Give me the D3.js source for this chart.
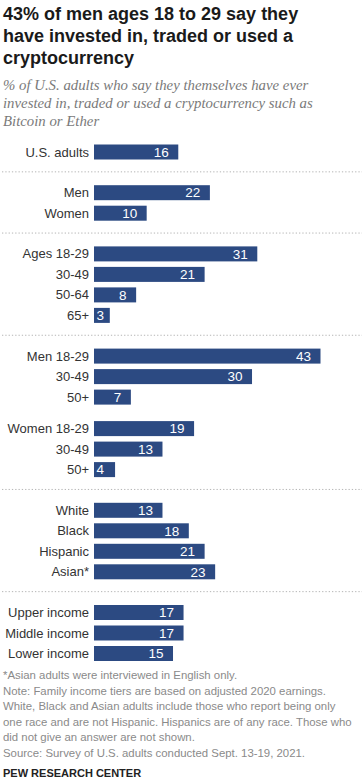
<!DOCTYPE html>
<html>
<head>
<meta charset="utf-8">
<script src="https://cdn.jsdelivr.net/npm/d3@7"></script>
<style>
  html, body { margin: 0; padding: 0; background: #fff; }
  svg { display: block; }
</style>
</head>
<body>
<script>
// ---- DATA ----
const categories = ["U.S. adults", "Men", "Women", "Ages 18-29", "30-49", "50-64", "65+",
  "Men 18-29", "30-49", "50+", "Women 18-29", "30-49", "50+",
  "White", "Black", "Hispanic", "Asian*", "Upper income", "Middle income", "Lower income"];
const values = [16, 22, 10, 31, 21, 8, 3, 43, 30, 7, 19, 13, 4, 13, 18, 21, 23, 17, 17, 15];
// group index of each row; a divider line separates sections
const groups = [0, 1, 1, 2, 2, 2, 2, 3, 3, 3, 4, 4, 4, 5, 5, 5, 5, 6, 6, 6];
// whether a dotted divider precedes each group
const groupDivider = [false, true, true, true, false, true, true];

const titleLines = ["43% of men ages 18 to 29 say they", "have invested in, traded or used a", "cryptocurrency"];
const subtitleLines = ["% of U.S. adults who say they themselves have ever",
  "invested in, traded or used a cryptocurrency such as", "Bitcoin or Ether"];
const noteLines = ["*Asian adults were interviewed in English only.",
  "Note: Family income tiers are based on adjusted 2020 earnings.",
  "White, Black and Asian adults include those who report being only",
  "one race and are not Hispanic. Hispanics are of any race. Those who",
  "did not give an answer are not shown.",
  "Source: Survey of U.S. adults conducted Sept. 13-19, 2021."];
const sourceLabel = "PEW RESEARCH CENTER";

// ---- LAYOUT ----
const W = 362, H = 781;
const svg = d3.select("body").append("svg").attr("width", W).attr("height", H);

const sans = "'Liberation Sans', Arial, sans-serif";
const serif = "'Liberation Serif', Georgia, serif";

// title
svg.append("g").selectAll("text").data(titleLines).join("text")
  .attr("x", 3).attr("y", (d, i) => 20 + i * 21.8)
  .attr("font-family", sans).attr("font-weight", "bold").attr("font-size", 18)
  .attr("fill", "#1a1a1a").text(d => d);

// subtitle
svg.append("g").selectAll("text").data(subtitleLines).join("text")
  .attr("x", 3).attr("y", (d, i) => 90 + i * 18)
  .attr("font-family", serif).attr("font-style", "italic").attr("font-size", 14.8)
  .attr("fill", "#7a7a7a").text(d => d);

// row positions: pitch within groups plus extra gaps between groups
const pitch = 20.5, bigGap = 20.2, smallGap = 11, firstY = 152;
const rowY = [];
{
  let y = firstY;
  for (let i = 0; i < categories.length; i++) {
    if (i > 0) {
      y += pitch;
      if (groups[i] !== groups[i - 1]) y += groupDivider[groups[i]] ? bigGap : smallGap;
    }
    rowY.push(y);
  }
}

const x0 = 94;
const x = d3.scaleLinear().domain([0, 43]).range([x0, x0 + 226.5]);
const barH = 15;

const rows = categories.map((c, i) => ({ c, v: values[i], g: groups[i], y: rowY[i] }));

// dividers
const divs = [];
for (let i = 1; i < rows.length; i++) {
  if (rows[i].g !== rows[i - 1].g && groupDivider[rows[i].g]) {
    divs.push((rows[i].y + rows[i - 1].y) / 2 - 0.5);
  }
}
svg.append("g").selectAll("line").data(divs).join("line")
  .attr("x1", 2).attr("x2", W).attr("y1", d => d).attr("y2", d => d)
  .attr("stroke", "#b5b5b5").attr("stroke-width", 1).attr("stroke-dasharray", "1.3,2");

// bars
const bars = svg.append("g");
bars.selectAll("rect").data(rows).join("rect")
  .attr("x", x0).attr("y", d => d.y - barH / 2)
  .attr("width", d => x(d.v) - x0).attr("height", barH)
  .attr("fill", "#2c4a82");

// category labels
svg.append("g").selectAll("text").data(rows).join("text")
  .attr("x", 89).attr("y", d => d.y + 4.5).attr("text-anchor", "end")
  .attr("font-family", sans).attr("font-size", 13).attr("fill", "#333")
  .text(d => d.c);

// value labels
svg.append("g").selectAll("text").data(rows).join("text")
  .attr("x", d => (x(d.v) - x0) < 24 ? x0 + 2.5 : x(d.v) - 9.5)
  .attr("text-anchor", d => (x(d.v) - x0) < 24 ? "start" : "end")
  .attr("y", d => d.y + 4.7)
  .attr("font-family", sans).attr("font-size", 13.5).attr("fill", "#fff")
  .text(d => d.v);

// notes
svg.append("g").selectAll("text").data(noteLines).join("text")
  .attr("x", 3).attr("y", (d, i) => 679 + i * 15.6)
  .attr("font-family", sans).attr("font-size", 11.4).attr("fill", "#8a8a8a")
  .text(d => d);

svg.append("text").attr("x", 3).attr("y", 777)
  .attr("font-family", sans).attr("font-weight", "bold").attr("font-size", 11)
  .attr("fill", "#222").text(sourceLabel);
</script>
</body>
</html>
